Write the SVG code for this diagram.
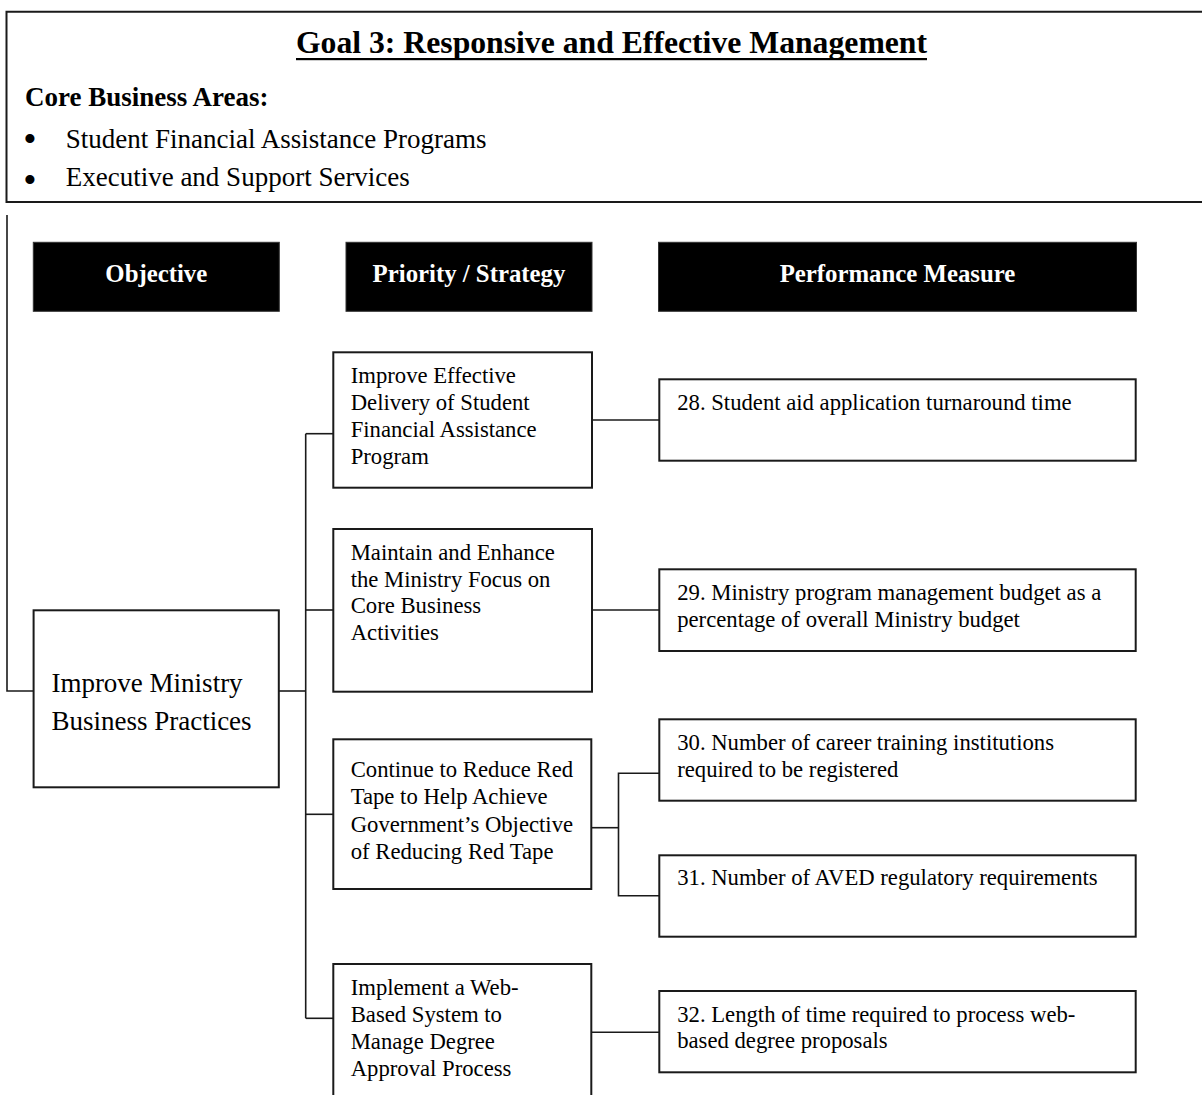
<svg xmlns="http://www.w3.org/2000/svg" width="1202" height="1095" viewBox="0 0 1202 1095">
  <style>
    .box { fill: #ffffff; stroke: #1a1a1a; stroke-width: 2; }
    .head { fill: #000000; stroke: #333333; stroke-width: 1; }
    .wire { fill: none; stroke: #1a1a1a; stroke-width: 1.6; }
    .frame { fill: none; stroke: #1a1a1a; stroke-width: 2; }
    text { font-family: "Liberation Serif", "Times New Roman", serif; fill: #000000; }
    .title { font-size: 31.7px; font-weight: bold; text-anchor: middle; }
    .big { font-size: 27px; }
    .bold { font-weight: bold; }
    .dot { font-size: 38px; text-anchor: middle; }
    .hd { font-size: 24.8px; font-weight: bold; fill: #ffffff; text-anchor: middle; }
    .sm { font-size: 22.7px; }
  </style>

  <!-- Goal banner -->
  <g id="goal-banner">
    <path class="frame" d="M1210 11.7 H6.5 V202 H1210"/>
    <text class="title" x="611.5" y="53">Goal 3: Responsive and Effective Management</text>
    <rect x="296" y="58" width="631" height="2.2" fill="#000000"/>
    <text class="big bold" x="25" y="106">Core Business Areas:</text>
    <text class="dot" x="30" y="151.5">•</text>
    <text class="big" x="65.7" y="147.5">Student Financial Assistance Programs</text>
    <text class="dot" x="30" y="192.5">•</text>
    <text class="big" x="65.7" y="186">Executive and Support Services</text>
  </g>

  <!-- Column headers -->
  <g id="header-objective">
    <rect class="head" x="33.3" y="242.3" width="246" height="69"/>
    <text class="hd" x="156.3" y="282">Objective</text>
  </g>
  <g id="header-priority">
    <rect class="head" x="346" y="242.3" width="246" height="69"/>
    <text class="hd" x="469" y="282">Priority / Strategy</text>
  </g>
  <g id="header-measure">
    <rect class="head" x="658.5" y="242.3" width="478" height="69"/>
    <text class="hd" x="897.5" y="282">Performance Measure</text>
  </g>

  <!-- Connectors -->
  <g id="connectors">
    <path class="wire" d="M7 215 V691 H33.6"/>
    <path class="wire" d="M279 691 H305.7"/>
    <path class="wire" d="M305.7 433.7 V1018.3"/>
    <path class="wire" d="M305.7 433.7 H333.3"/>
    <path class="wire" d="M305.7 610 H333.3"/>
    <path class="wire" d="M305.7 814.3 H333.3"/>
    <path class="wire" d="M305.7 1018.3 H333.3"/>
    <path class="wire" d="M592 420 H659.3"/>
    <path class="wire" d="M592 610 H659.3"/>
    <path class="wire" d="M592 827.7 H618.5"/>
    <path class="wire" d="M659.3 773.3 H618.5 V895.7 H659.3"/>
    <path class="wire" d="M592 1032.3 H659.3"/>
  </g>

  <!-- Objective -->
  <g id="objective">
    <rect class="box" x="33.6" y="610.3" width="245.2" height="177"/>
    <text class="big" x="51.4" y="691.7">Improve Ministry</text>
    <text class="big" x="51.4" y="730">Business Practices</text>
  </g>

  <!-- Priorities / strategies -->
  <g id="priority-1">
    <rect class="box" x="333.3" y="352.3" width="258.7" height="135.4"/>
    <text class="sm" x="350.7" y="382.7">Improve Effective</text>
    <text class="sm" x="350.7" y="409.9">Delivery of Student</text>
    <text class="sm" x="350.7" y="436.7">Financial Assistance</text>
    <text class="sm" x="350.7" y="463.5">Program</text>
  </g>
  <g id="priority-2">
    <rect class="box" x="333.3" y="529" width="258.7" height="162.7"/>
    <text class="sm" x="350.7" y="560">Maintain and Enhance</text>
    <text class="sm" x="350.7" y="586.8">the Ministry Focus on</text>
    <text class="sm" x="350.7" y="613.4">Core Business</text>
    <text class="sm" x="350.7" y="640">Activities</text>
  </g>
  <g id="priority-3">
    <rect class="box" x="333.3" y="739.3" width="258" height="149.7"/>
    <text class="sm" x="350.7" y="776.7">Continue to Reduce Red</text>
    <text class="sm" x="350.7" y="804">Tape to Help Achieve</text>
    <text class="sm" x="350.7" y="831.5">Government’s Objective</text>
    <text class="sm" x="350.7" y="859">of Reducing Red Tape</text>
  </g>
  <g id="priority-4">
    <rect class="box" x="333.3" y="964" width="258" height="180"/>
    <text class="sm" x="350.7" y="995">Implement a Web-</text>
    <text class="sm" x="350.7" y="1021.7">Based System to</text>
    <text class="sm" x="350.7" y="1049">Manage Degree</text>
    <text class="sm" x="350.7" y="1076">Approval Process</text>
  </g>

  <!-- Performance measures -->
  <g id="measure-28">
    <rect class="box" x="659.3" y="379.3" width="476.4" height="81.4"/>
    <text class="sm" x="677.2" y="410">28. Student aid application turnaround time</text>
  </g>
  <g id="measure-29">
    <rect class="box" x="659.3" y="569.3" width="476.4" height="81.7"/>
    <text class="sm" x="677.2" y="600">29. Ministry program management budget as a</text>
    <text class="sm" x="677.2" y="626.7">percentage of overall Ministry budget</text>
  </g>
  <g id="measure-30">
    <rect class="box" x="659.3" y="719.3" width="476.4" height="81.4"/>
    <text class="sm" x="677.2" y="750">30. Number of career training institutions</text>
    <text class="sm" x="677.2" y="776.7">required to be registered</text>
  </g>
  <g id="measure-31">
    <rect class="box" x="659.3" y="855.3" width="476.4" height="81.4"/>
    <text class="sm" x="677.2" y="885">31. Number of AVED regulatory requirements</text>
  </g>
  <g id="measure-32">
    <rect class="box" x="659.3" y="991" width="476.4" height="81.3"/>
    <text class="sm" x="677.2" y="1021.7">32. Length of time required to process web-</text>
    <text class="sm" x="677.2" y="1048.3">based degree proposals</text>
  </g>
</svg>
